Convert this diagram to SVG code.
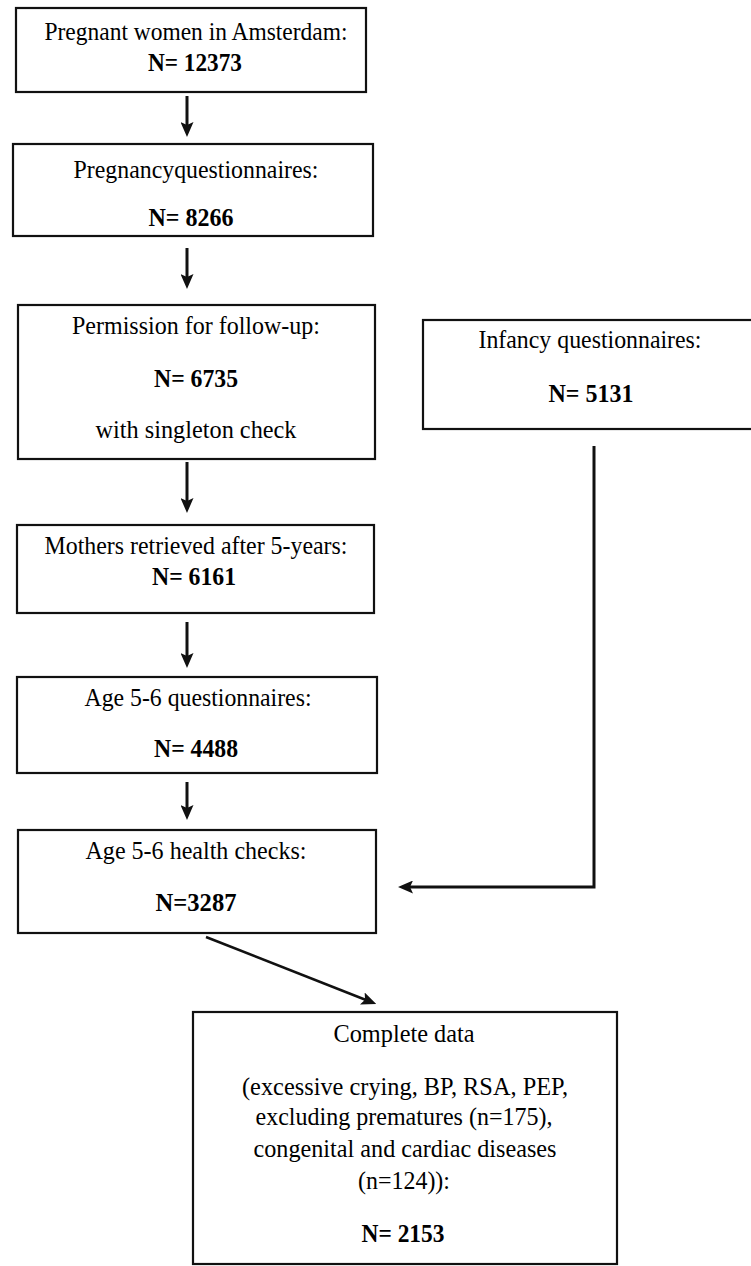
<svg xmlns="http://www.w3.org/2000/svg" width="751" height="1266" viewBox="0 0 751 1266">
<style>
.box{fill:#fff;stroke:#111;stroke-width:2.2}
.t{font-family:"Liberation Serif","Times New Roman",serif;font-size:26px;fill:#000;text-anchor:middle}
.b{font-weight:bold}
.c{stroke:#111;stroke-width:3;fill:none}
.d{stroke:#111;stroke-width:2.5;fill:none}
</style>
<defs>
<marker id="ah" viewBox="0 0 15 13" refX="4" refY="6.5" markerWidth="15" markerHeight="13" markerUnits="userSpaceOnUse" orient="auto">
<path d="M0,0 L15,6.5 L0,13 L3,6.5 z" fill="#111"/>
</marker>
</defs>
<rect width="751" height="1266" fill="#fff"/>
<g id="n1">
<rect class="box" x="16" y="8" width="350" height="84"/>
<text class="t" x="196" y="40" textLength="303" lengthAdjust="spacingAndGlyphs">Pregnant women in Amsterdam:</text>
<text class="t b" x="195" y="71" textLength="94" lengthAdjust="spacingAndGlyphs">N= 12373</text>
</g>
<g id="n2">
<rect class="box" x="13" y="144" width="360" height="92"/>
<text class="t" x="196" y="178" textLength="245" lengthAdjust="spacingAndGlyphs">Pregnancyquestionnaires:</text>
<text class="t b" x="191" y="226" textLength="85" lengthAdjust="spacingAndGlyphs">N= 8266</text>
</g>
<g id="n3">
<rect class="box" x="18" y="305" width="357" height="154"/>
<text class="t" x="196" y="334" textLength="248" lengthAdjust="spacingAndGlyphs">Permission for follow-up:</text>
<text class="t b" x="196" y="387" textLength="84" lengthAdjust="spacingAndGlyphs">N= 6735</text>
<text class="t" x="196" y="438" textLength="201" lengthAdjust="spacingAndGlyphs">with singleton check</text>
</g>
<g id="n4">
<rect class="box" x="423" y="320" width="340" height="109"/>
<text class="t" x="590" y="348" textLength="223" lengthAdjust="spacingAndGlyphs">Infancy questionnaires:</text>
<text class="t b" x="591" y="402" textLength="85" lengthAdjust="spacingAndGlyphs">N= 5131</text>
</g>
<g id="n5">
<rect class="box" x="17" y="525" width="357" height="88"/>
<text class="t" x="196" y="554" textLength="303" lengthAdjust="spacingAndGlyphs">Mothers retrieved after 5-years:</text>
<text class="t b" x="194" y="585" textLength="84" lengthAdjust="spacingAndGlyphs">N= 6161</text>
</g>
<g id="n6">
<rect class="box" x="17" y="677" width="360" height="96"/>
<text class="t" x="198" y="706" textLength="227" lengthAdjust="spacingAndGlyphs">Age 5-6 questionnaires:</text>
<text class="t b" x="196" y="757" textLength="84" lengthAdjust="spacingAndGlyphs">N= 4488</text>
</g>
<g id="n7">
<rect class="box" x="18" y="830" width="358" height="103"/>
<text class="t" x="196" y="859" textLength="221" lengthAdjust="spacingAndGlyphs">Age 5-6 health checks:</text>
<text class="t b" x="196" y="911" textLength="81" lengthAdjust="spacingAndGlyphs">N=3287</text>
</g>
<g id="n8">
<rect class="box" x="193" y="1012" width="424" height="252"/>
<text class="t" x="404" y="1042" textLength="141" lengthAdjust="spacingAndGlyphs">Complete data</text>
<text class="t" x="405" y="1095" textLength="326" lengthAdjust="spacingAndGlyphs">(excessive crying, BP, RSA, PEP,</text>
<text class="t" x="404" y="1125" textLength="297" lengthAdjust="spacingAndGlyphs">excluding prematures (n=175),</text>
<text class="t" x="405" y="1157" textLength="303" lengthAdjust="spacingAndGlyphs">congenital and cardiac diseases</text>
<text class="t" x="404" y="1189" textLength="92" lengthAdjust="spacingAndGlyphs">(n=124)):</text>
<text class="t b" x="403" y="1242" textLength="83" lengthAdjust="spacingAndGlyphs">N= 2153</text>
</g>
<g id="connectors">
<line class="c" x1="187" y1="96" x2="187" y2="126" marker-end="url(#ah)"/>
<line class="c" x1="187" y1="248" x2="187" y2="278" marker-end="url(#ah)"/>
<line class="c" x1="187" y1="462" x2="187" y2="502" marker-end="url(#ah)"/>
<line class="c" x1="187" y1="622" x2="187" y2="657" marker-end="url(#ah)"/>
<line class="c" x1="187" y1="782" x2="187" y2="809" marker-end="url(#ah)"/>
<path class="c" d="M594,446 L594,887 L409,887" marker-end="url(#ah)"/>
<line class="d" x1="206" y1="937" x2="366" y2="1000" marker-end="url(#ah)"/>
</g>
</svg>
